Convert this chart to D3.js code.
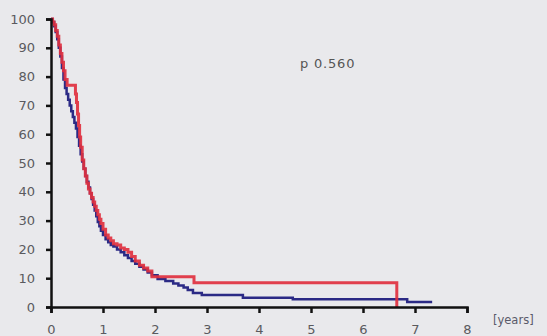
<!DOCTYPE html>
<html><head><meta charset="utf-8">
<script src="https://cdn.jsdelivr.net/npm/d3@7"></script>
<style>html,body{margin:0;padding:0;background:#e9e9ec;}svg{display:block;}</style>
</head><body>
<script>
const xTicks = [0,1,2,3,4,5,6,7,8];
const yTicks = [0,10,20,30,40,50,60,70,80,90,100];
const redTimes = [0,0.03,0.06,0.09,0.12,0.15,0.18,0.21,0.24,0.27,0.31,0.47,0.49,0.51,0.53,0.55,0.57,0.6,0.63,0.66,0.69,0.72,0.75,0.78,0.81,0.84,0.87,0.9,0.93,0.96,1.0,1.05,1.1,1.15,1.2,1.27,1.34,1.41,1.48,1.55,1.62,1.7,1.78,1.86,1.94,2.75,6.65,6.65];
const redSurv  = [100,99,98,96,94,91,88,85,82,79,77,74,71,67,63,59,55.5,51,48,45.5,43,41,39.5,38,36.5,35,33.5,32,30.5,29,27,25,24,23,22,21.5,20.5,20,19,17.5,16,14.5,13.5,12.5,10.5,8.4,0,0];
const blueTimes = [0,0.03,0.06,0.09,0.12,0.15,0.18,0.21,0.24,0.27,0.3,0.33,0.36,0.39,0.42,0.45,0.48,0.51,0.54,0.57,0.6,0.63,0.66,0.69,0.72,0.75,0.78,0.81,0.84,0.87,0.9,0.93,0.96,1.0,1.05,1.1,1.15,1.2,1.27,1.34,1.41,1.48,1.55,1.62,1.7,1.78,1.86,1.94,2.05,2.2,2.35,2.45,2.55,2.63,2.73,2.9,3.69,4.65,6.85,7.33];
const blueSurv  = [100,99,97.5,95.5,93,90,87,83,79,76,74,72,70,68,66,64,62,59,56,53,50.5,48,45.5,43.5,41.5,39.5,37.5,35.5,33.5,31.5,29.5,28,26.5,25,23.5,22.5,21.5,21,20,19,18,17,16,15,14,13,12,11,9.7,9.0,8.2,7.5,6.8,5.9,4.9,4.2,3.2,2.7,1.7,1.7];
const pLabel = "p 0.560";
const unitLabel = "[years]";

const W = 547, H = 336;
const svg = d3.select("body").append("svg").attr("width", W).attr("height", H);
svg.append("rect").attr("width", W).attr("height", H).attr("fill", "#e9e9ec");

const x = d3.scaleLinear().domain([0, 8]).range([51, 467]);
const y = d3.scaleLinear().domain([0, 100]).range([307, 19]);

const line = d3.line().x(d => x(d[0])).y(d => y(d[1])).curve(d3.curveStepAfter);
const blue = blueTimes.map((t, i) => [t, blueSurv[i]]);
const red = redTimes.map((t, i) => [t, redSurv[i]]);

svg.append("path").attr("d", line(blue)).attr("fill", "none")
  .attr("stroke", "#2b2a85").attr("stroke-width", 2.5);
svg.append("path").attr("d", line(red)).attr("fill", "none")
  .attr("stroke", "#e0303f").attr("stroke-width", 3).attr("stroke-opacity", 0.92);

const xAxis = svg.append("g").attr("transform", `translate(0,${y(0)})`)
  .call(d3.axisBottom(x).tickValues(xTicks).tickSize(6).tickPadding(12).tickFormat(d3.format("d")));
const yAxis = svg.append("g").attr("transform", `translate(${x(0)},0)`)
  .call(d3.axisLeft(y).tickValues(yTicks).tickSize(5).tickPadding(11).tickFormat(d3.format("d")));
[xAxis, yAxis].forEach(g => {
  g.select(".domain").attr("stroke", "#111").attr("stroke-width", 2.5);
  g.selectAll(".tick line").attr("stroke", "#111").attr("stroke-width", 2.5);
  g.selectAll(".tick text").attr("fill", "#5a5a5e").attr("font-family", "DejaVu Sans")
    .attr("font-size", 13);
});

svg.append("text").attr("x", 300).attr("y", 68).text(pLabel)
  .attr("fill", "#555").attr("font-family", "DejaVu Sans").attr("font-size", 13)
  .attr("letter-spacing", 0.8);
svg.append("text").attr("x", 493).attr("y", 324).text(unitLabel)
  .attr("fill", "#5a5a6a").attr("font-family", "DejaVu Sans").attr("font-size", 11.5);
</script>
</body></html>
